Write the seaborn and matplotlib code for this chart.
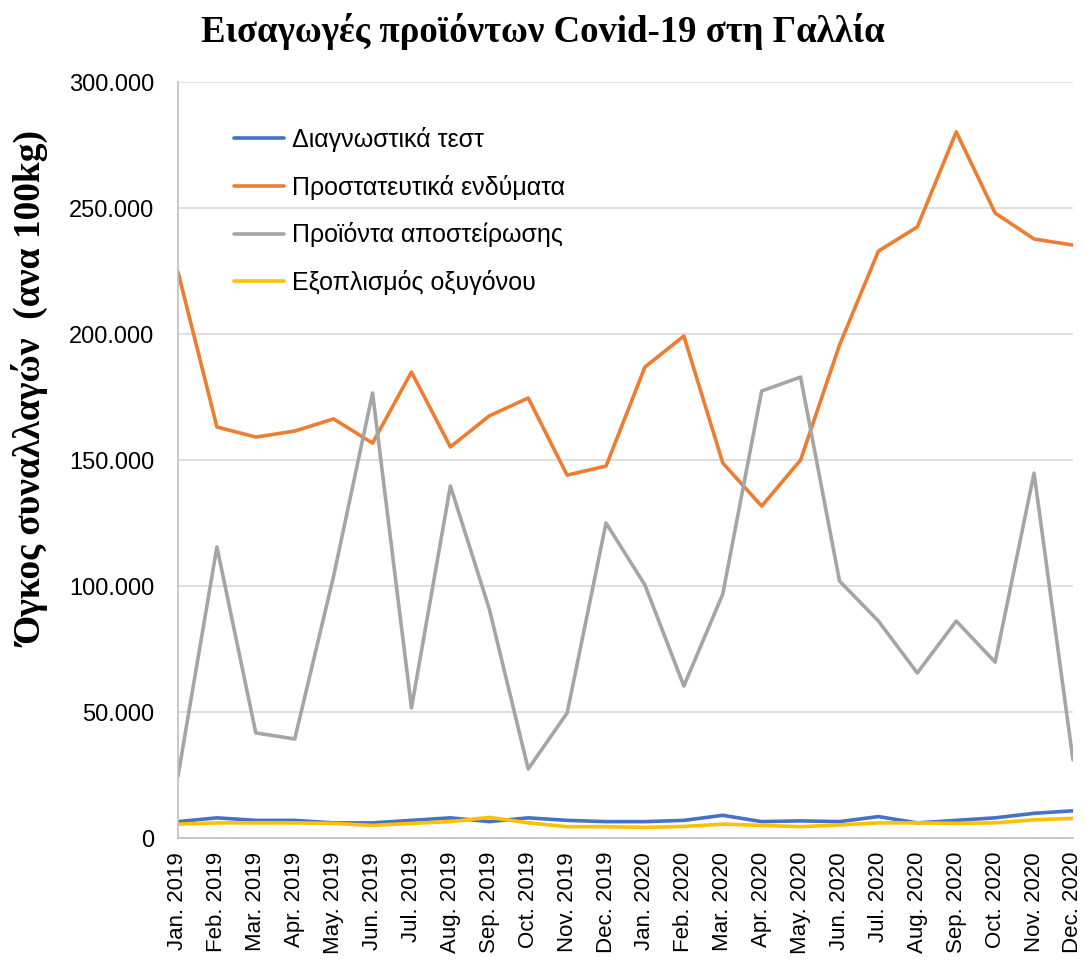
import matplotlib
matplotlib.use("Agg")
import matplotlib.pyplot as plt
import matplotlib.ticker as mticker
import seaborn as sns
import pandas as pd

# Data
months = ["Jan. 2019", "Feb. 2019", "Mar. 2019", "Apr. 2019", "May. 2019", "Jun. 2019",
          "Jul. 2019", "Aug. 2019", "Sep. 2019", "Oct. 2019", "Nov. 2019", "Dec. 2019",
          "Jan. 2020", "Feb. 2020", "Mar. 2020", "Apr. 2020", "May. 2020", "Jun. 2020",
          "Jul. 2020", "Aug. 2020", "Sep. 2020", "Oct. 2020", "Nov. 2020", "Dec. 2020"]

diagnostic_tests = [6500, 8000, 7000, 7000, 6000, 6000, 7000, 8000, 6500, 8000, 7000, 6500,
                    6500, 7000, 9000, 6500, 6800, 6500, 8500, 6000, 7000, 8000, 9800, 10800]
protective_clothing = [224600, 163100, 159100, 161500, 166300, 156700, 184900, 155200, 167500,
                       174600, 144000, 147600, 186900, 199200, 148800, 131700, 150000, 195600,
                       232900, 242500, 280200, 248000, 237700, 235300]
sterilisation = [24600, 115500, 41700, 39300, 104000, 176600, 51600, 139700, 90900, 27400,
                 49600, 125000, 100400, 60300, 96800, 177400, 182900, 102000, 86100, 65500,
                 86100, 69800, 144800, 31000]
oxygen_equipment = [5500, 6000, 6000, 6000, 5800, 5000, 5800, 6500, 8200, 6000, 4500, 4500,
                    4200, 4600, 5500, 5000, 4500, 5200, 6000, 6000, 5800, 6000, 7200, 7800]

series_names = ["Διαγνωστικά τεστ", "Προστατευτικά ενδύματα",
                "Προϊόντα αποστείρωσης", "Εξοπλισμός οξυγόνου"]
series_values = [diagnostic_tests, protective_clothing, sterilisation, oxygen_equipment]
colors = ["#4472C4", "#ED7D31", "#A5A5A5", "#FFC000"]

sns.set_style("white")
plt.rcParams["font.family"] = ["Liberation Sans", "DejaVu Sans"]
plt.rcParams["text.color"] = "black"
plt.rcParams["axes.labelcolor"] = "black"
plt.rcParams["xtick.color"] = "black"
plt.rcParams["ytick.color"] = "black"

fig = plt.figure(figsize=(10.86, 9.65), dpi=100)
ax = fig.add_axes([0.1639, 0.1316, 0.8241, 0.7834])

x = list(range(len(months)))
for name, vals, c in zip(series_names, series_values, colors):
    sns.lineplot(x=x, y=vals, ax=ax, color=c, linewidth=2.6, label=name)

ax.set_xlim(0, len(months) - 1)
ax.set_ylim(0, 300000)
ax.yaxis.set_major_locator(mticker.MultipleLocator(50000))
ax.yaxis.set_major_formatter(mticker.FuncFormatter(
    lambda v, p: f"{int(v):,}".replace(",", ".")))
ax.grid(axis="y", color="#D9D9D9", linewidth=1.2)
ax.set_axisbelow(True)

ax.set_xticks(x)
ax.set_xticklabels(months, rotation=90, fontsize=16)
ax.tick_params(axis="y", labelsize=17, length=0, pad=17)
ax.tick_params(axis="x", length=0, pad=10)

for side in ["top", "right"]:
    ax.spines[side].set_visible(False)
for side in ["left", "bottom"]:
    ax.spines[side].set_color("#BFBFBF")
    ax.spines[side].set_linewidth(1.2)

# y label: right edge ~50px from the left, centred ~390px from the top
ax.set_ylabel("Όγκος συναλλαγών  (ανα 100kg)", fontsize=27, fontweight="bold",
              family="Liberation Serif")
ax.yaxis.set_label_coords(-0.143, 0.593)

leg = ax.legend(loc="upper left", bbox_to_anchor=(0.037, 0.9706), frameon=False,
                fontsize=18, labelspacing=0.91, handlelength=2.0, handletextpad=0.32)

fig.text(0.5, 0.967, "Εισαγωγές προϊόντων Covid-19 στη Γαλλία", ha="center", va="center",
         fontsize=26.5, fontweight="bold", family="Liberation Serif")

plt.savefig("out.png", dpi=100)
